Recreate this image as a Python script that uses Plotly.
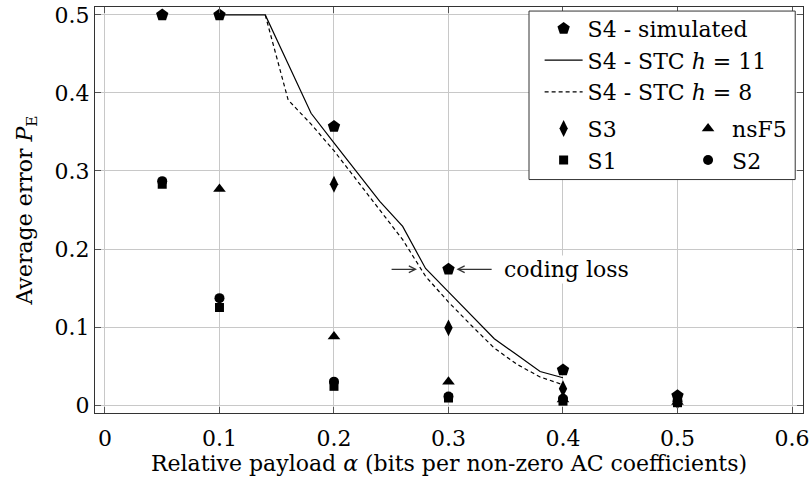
import plotly.graph_objects as go

# ---------------- data ----------------
alpha = [0.05, 0.1, 0.2, 0.3, 0.4, 0.5]
s4_sim = [0.5, 0.5, 0.357, 0.174, 0.045, 0.012]

s3_x = [0.2, 0.3, 0.4, 0.5]
s3_y = [0.283, 0.099, 0.021, 0.005]

nsf5_x = [0.1, 0.2, 0.3, 0.4, 0.5]
nsf5_y = [0.277, 0.088, 0.030, 0.007, 0.004]

s1_x = [0.05, 0.1, 0.2, 0.3, 0.4, 0.5]
s1_y = [0.283, 0.125, 0.024, 0.009, 0.005, 0.003]

s2_x = [0.05, 0.1, 0.2, 0.3, 0.4, 0.5]
s2_y = [0.287, 0.137, 0.030, 0.011, 0.008, 0.005]

stc_x = [0.10, 0.14, 0.16, 0.18, 0.20, 0.22, 0.24, 0.26, 0.28, 0.30, 0.32, 0.34, 0.36, 0.38, 0.40]
stc11_y = [0.5, 0.5, 0.437, 0.374, 0.336, 0.298, 0.261, 0.229, 0.175, 0.145, 0.115, 0.085, 0.064, 0.043, 0.035]
stc8_x = [0.14, 0.16, 0.18, 0.20, 0.22, 0.24, 0.26, 0.28, 0.30, 0.32, 0.34, 0.36, 0.38, 0.40]
stc8_y = [0.5, 0.391, 0.360, 0.326, 0.288, 0.250, 0.212, 0.165, 0.132, 0.102, 0.073, 0.052, 0.036, 0.026]

x_ticks = [0, 0.1, 0.2, 0.3, 0.4, 0.5, 0.6]
x_ticktext = ["0", "0.1", "0.2", "0.3", "0.4", "0.5", "0.6"]
y_ticks = [0, 0.1, 0.2, 0.3, 0.4, 0.5]
y_ticktext = ["0", "0.1", "0.2", "0.3", "0.4", "0.5"]

FONT = "DejaVu Serif"
FS = 22

fig = go.Figure()

fig.add_trace(go.Scatter(x=stc_x, y=stc11_y, mode="lines", name="S4 - STC <i>h</i> = 11",
                         line=dict(color="black", width=1.2), legend="legend", legendrank=2))
fig.add_trace(go.Scatter(x=stc8_x, y=stc8_y, mode="lines", name="S4 - STC <i>h</i> = 8",
                         line=dict(color="black", width=1.2, dash="4px,3px"), legend="legend", legendrank=3))
fig.add_trace(go.Scatter(x=alpha, y=s4_sim, mode="markers", name="S4 - simulated",
                         marker=dict(symbol="pentagon", size=13, color="black"), legend="legend", legendrank=1))
fig.add_trace(go.Scatter(x=s3_x, y=s3_y, mode="markers", name="S3",
                         marker=dict(symbol="diamond-tall", size=12, color="black"), legend="legend2", legendrank=1))
fig.add_trace(go.Scatter(x=s1_x, y=s1_y, mode="markers", name="S1",
                         marker=dict(symbol="square", size=9, color="black"), legend="legend2", legendrank=2))
fig.add_trace(go.Scatter(x=nsf5_x, y=nsf5_y, mode="markers", name="nsF5",
                         marker=dict(symbol="triangle-up", size=11, color="black"), legend="legend3", legendrank=1))
fig.add_trace(go.Scatter(x=s2_x, y=s2_y, mode="markers", name="S2",
                         marker=dict(symbol="circle", size=10, color="black"), legend="legend3", legendrank=2))

axis_common = dict(showgrid=True, gridcolor="#c8c8c8", gridwidth=1, zeroline=False,
                   showline=True, linecolor="#333333", linewidth=1.2, mirror="ticks",
                   ticks="inside", ticklen=6, tickcolor="#555555", ticklabeloverflow="allow",
                   tickfont=dict(family=FONT, size=FS, color="black"))

leg_common = dict(xanchor="left", yanchor="top", bgcolor="rgba(0,0,0,0)", borderwidth=0,
                  font=dict(family=FONT, size=FS), itemwidth=38)

fig.update_layout(
    width=812, height=490,
    margin=dict(l=95, r=6, t=3, b=77),
    paper_bgcolor="white", plot_bgcolor="white",
    font=dict(family=FONT, size=FS, color="black"),
    xaxis=dict(range=[-0.0087, 0.6096], tickvals=x_ticks, ticktext=x_ticktext, ticklabelstandoff=5,
               title=dict(text="Relative payload <i>α</i> (bits per non-zero AC coefficients)",
                          font=dict(family=FONT, size=FS), standoff=6), **axis_common),
    yaxis=dict(range=[-0.0102, 0.5102], tickvals=y_ticks, ticktext=y_ticktext,
               title=dict(text="Average error <i>P</i><sub>E</sub>",
                          font=dict(family=FONT, size=FS), standoff=15), **axis_common),
    legend=dict(x=0.628, y=0.998, tracegroupgap=0, **leg_common),
    legend2=dict(x=0.628, y=0.752, **leg_common),
    legend3=dict(x=0.832, y=0.752, **leg_common),
    shapes=[dict(type="rect", xref="paper", yref="paper", x0=0.613, x1=0.989, y0=0.575, y1=0.99,
                 line=dict(color="#333333", width=1), fillcolor="white", layer="above")],
    annotations=[
        dict(x=0.2725, y=0.174, ax=0.249, ay=0.174, xref="x", yref="y", axref="x", ayref="y",
             text="", showarrow=True, arrowhead=5, arrowsize=1.1, arrowwidth=1.2, arrowcolor="#333333"),
        dict(x=0.307, y=0.174, ax=0.339, ay=0.174, xref="x", yref="y", axref="x", ayref="y",
             text="", showarrow=True, arrowhead=5, arrowsize=1.1, arrowwidth=1.2, arrowcolor="#333333"),
        dict(x=0.347, y=0.174, xref="x", yref="y", text="coding loss", showarrow=False,
             xanchor="left", yanchor="middle", bgcolor="white",
             font=dict(family=FONT, size=FS, color="black")),
    ],
)

fig.write_html("out.html")
